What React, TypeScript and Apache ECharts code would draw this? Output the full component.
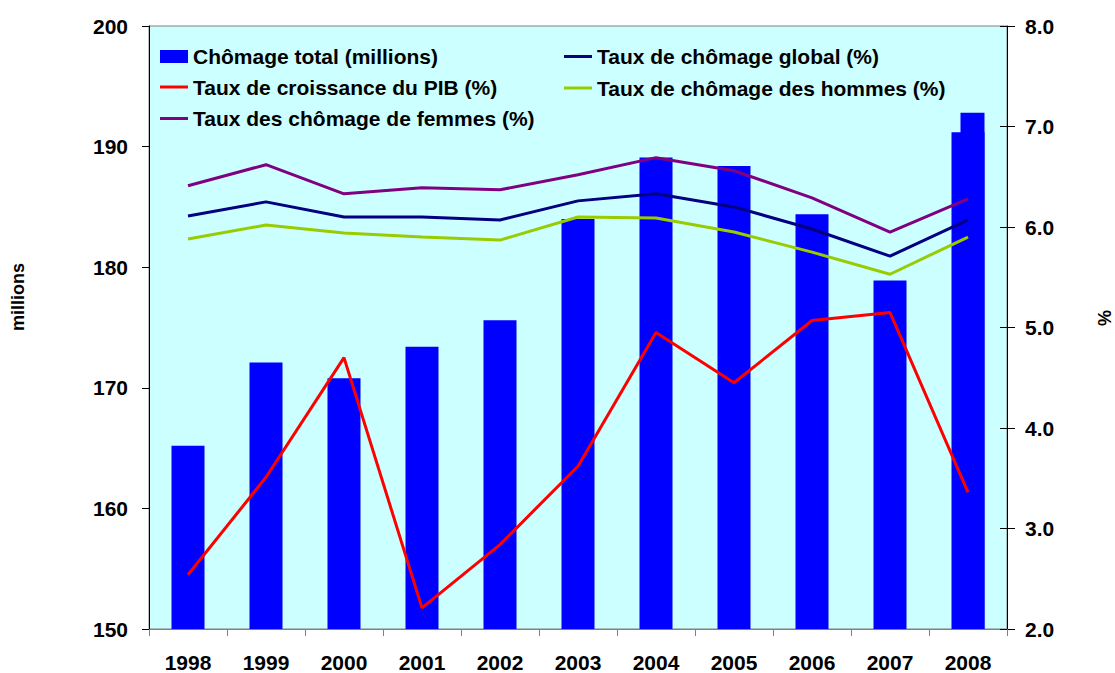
import React, { useEffect, useRef } from "react";
import * as echarts from "echarts";

const years = ["1998", "1999", "2000", "2001", "2002", "2003", "2004", "2005", "2006", "2007", "2008"];
const chomageTotal = [165.2, 172.1, 170.8, 173.4, 175.6, 184.0, 189.1, 188.4, 184.4, 178.9, 191.2];
const chomageTotal2008 = [null, null, null, null, null, null, null, null, null, null, 192.8];
const tauxGlobal = [6.11, 6.25, 6.10, 6.10, 6.07, 6.26, 6.33, 6.20, 5.98, 5.71, 6.07];
const croissancePIB = [2.54, 3.51, 4.70, 2.21, 2.84, 3.62, 4.95, 4.45, 5.07, 5.15, 3.36];
const tauxHommes = [5.88, 6.02, 5.94, 5.90, 5.87, 6.10, 6.09, 5.95, 5.75, 5.53, 5.90];
const tauxFemmes = [6.41, 6.62, 6.33, 6.39, 6.37, 6.52, 6.69, 6.56, 6.29, 5.95, 6.28];

const leftTicks = { min: 150, max: 200, interval: 10 };
const rightTicks = { min: 2, max: 8, interval: 1 };

const N_TOTAL = "Chômage total (millions)";
const N_GLOBAL = "Taux de chômage global (%)";
const N_PIB = "Taux de croissance du PIB (%)";
const N_HOMMES = "Taux de chômage des hommes (%)";
const N_FEMMES = "Taux des chômage de femmes (%)";

const FONT = "'Liberation Sans', Arial, sans-serif";

export default function App() {
  const ref = useRef<HTMLDivElement>(null);
  useEffect(() => {
    if (!ref.current) return;
    const chart = echarts.init(ref.current, null, { renderer: "svg" });
    const legendText = {
      fontSize: 21,
      fontWeight: "bold",
      color: "#000",
      fontFamily: FONT,
      lineHeight: 20,
    };
    const axisLabel = {
      fontSize: 21,
      fontWeight: "bold",
      color: "#000",
      fontFamily: FONT,
    };
    const legendBase = {
      orient: "vertical",
      padding: 0,
      itemWidth: 28,
      itemGap: 10.5,
      textStyle: legendText,
    };
    chart.setOption({
      animation: false,
      backgroundColor: "#fff",
      grid: {
        left: 149,
        right: 108,
        top: 26,
        bottom: 42,
        show: true,
        backgroundColor: "#CCFFFF",
        borderColor: "#808080",
        borderWidth: 1,
      },
      legend: [
        {
          ...legendBase,
          left: 160,
          top: 46,
          itemHeight: 13,
          data: [{ name: N_TOTAL, icon: "rect" }],
        },
        {
          ...legendBase,
          left: 160,
          top: 76.5,
          itemHeight: 3,
          icon: "rect",
          data: [N_PIB, N_FEMMES],
        },
        {
          ...legendBase,
          left: 564,
          top: 46,
          itemHeight: 3,
          icon: "rect",
          data: [N_GLOBAL, N_HOMMES],
        },
      ],
      xAxis: {
        type: "category",
        data: years,
        axisLine: { lineStyle: { color: "#808080", width: 1 } },
        axisTick: { show: true, length: 7, lineStyle: { color: "#808080" } },
        axisLabel: { ...axisLabel, margin: 23 },
        splitLine: { show: false },
      },
      yAxis: [
        {
          type: "value",
          min: leftTicks.min,
          max: leftTicks.max,
          interval: leftTicks.interval,
          axisLine: { show: true, lineStyle: { color: "#000", width: 1 } },
          axisTick: { show: true, length: 7, lineStyle: { color: "#000" } },
          axisLabel: { ...axisLabel, margin: 21 },
          splitLine: { show: false },
        },
        {
          type: "value",
          min: rightTicks.min,
          max: rightTicks.max,
          interval: rightTicks.interval,
          position: "right",
          axisLine: { show: true, lineStyle: { color: "#000", width: 1 } },
          axisTick: { show: true, length: 8, lineStyle: { color: "#000" } },
          axisLabel: {
            ...axisLabel,
            margin: 18,
            formatter: (v: number) => v.toFixed(1),
          },
          splitLine: { show: false },
        },
        {
          type: "value",
          min: rightTicks.min,
          max: rightTicks.max,
          interval: rightTicks.interval,
          position: "right",
          offset: 0,
          axisLine: { show: false },
          axisTick: { show: true, inside: true, length: 7, lineStyle: { color: "#000" } },
          axisLabel: { show: false },
          splitLine: { show: false },
        },
      ],
      graphic: [
        {
          type: "text",
          x: 18,
          y: 297,
          rotation: Math.PI / 2,
          style: {
            text: "millions",
            fontSize: 18,
            fontWeight: "bold",
            fontFamily: FONT,
            fill: "#000",
            align: "center",
            verticalAlign: "middle",
          },
        },
        {
          type: "text",
          x: 1105,
          y: 318,
          rotation: Math.PI / 2,
          style: {
            text: "%",
            fontSize: 18,
            fontWeight: "bold",
            fontFamily: FONT,
            fill: "#000",
            align: "center",
            verticalAlign: "middle",
          },
        },
      ],
      series: [
        {
          name: N_TOTAL,
          type: "bar",
          data: chomageTotal,
          barWidth: 33,
          barGap: "-72.73%",
          itemStyle: { color: "#0000FF" },
          z: 1,
        },
        {
          name: N_TOTAL,
          type: "bar",
          data: chomageTotal2008,
          barWidth: 24,
          barGap: "-72.73%",
          itemStyle: { color: "#0000FF" },
          z: 1,
        },
        {
          name: N_GLOBAL,
          type: "line",
          yAxisIndex: 1,
          data: tauxGlobal,
          symbol: "none",
          lineStyle: { color: "#000080", width: 3 },
          itemStyle: { color: "#000080" },
          z: 3,
        },
        {
          name: N_PIB,
          type: "line",
          yAxisIndex: 1,
          data: croissancePIB,
          symbol: "none",
          lineStyle: { color: "#FF0000", width: 3 },
          itemStyle: { color: "#FF0000" },
          z: 3,
        },
        {
          name: N_HOMMES,
          type: "line",
          yAxisIndex: 1,
          data: tauxHommes,
          symbol: "none",
          lineStyle: { color: "#99CC00", width: 3 },
          itemStyle: { color: "#99CC00" },
          z: 3,
        },
        {
          name: N_FEMMES,
          type: "line",
          yAxisIndex: 1,
          data: tauxFemmes,
          symbol: "none",
          lineStyle: { color: "#800080", width: 3 },
          itemStyle: { color: "#800080" },
          z: 3,
        },
      ],
    });
    return () => chart.dispose();
  }, []);
  return (
    <div
      ref={ref}
      style={{ position: "absolute", left: 0, top: 0, width: 1115, height: 673 }}
    />
  );
}
